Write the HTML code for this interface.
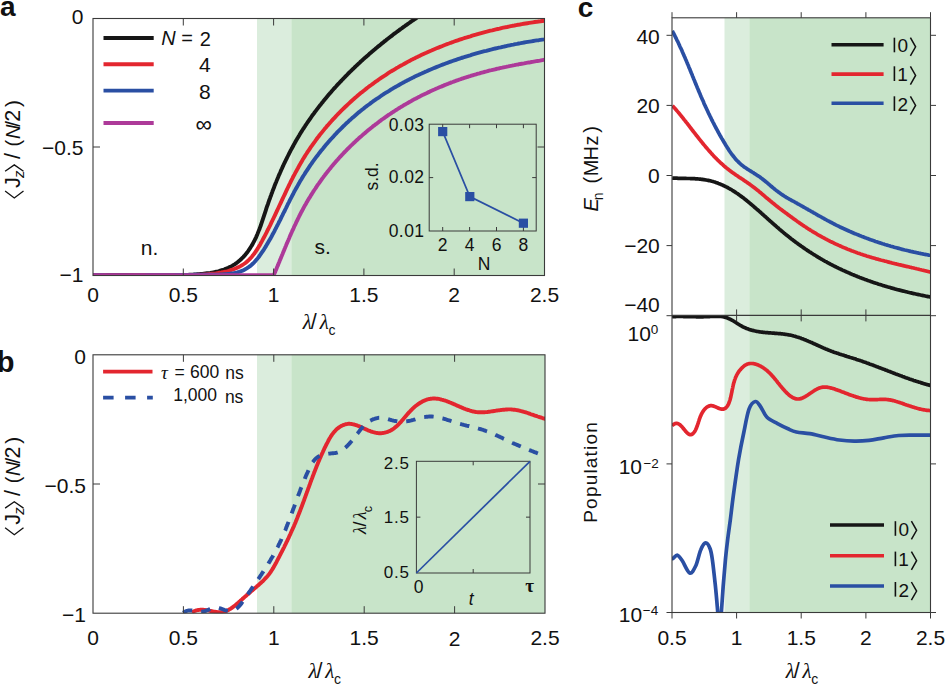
<!DOCTYPE html>
<html><head><meta charset="utf-8"><style>
html,body{margin:0;padding:0;background:#fff;}
svg{display:block;}
</style></head><body>
<svg width="946" height="691" viewBox="0 0 946 691">
<rect width="946" height="691" fill="#fff"/>
<clipPath id="clipa"><rect x="93" y="18.5" width="451.5" height="257"/></clipPath>
<clipPath id="clipb"><rect x="93" y="354.8" width="452" height="258.4"/></clipPath>
<clipPath id="clipcu"><rect x="672" y="17.8" width="258.5" height="297.6"/></clipPath>
<clipPath id="clipcl"><rect x="672" y="315.4" width="258.5" height="296.9"/></clipPath>
<rect x="257" y="18.5" width="34.3" height="257.0" fill="#dbeddd"/>
<rect x="291.3" y="18.5" width="253.2" height="257.0" fill="#c8e4c9"/>
<g clip-path="url(#clipa)" fill="none" stroke-width="3.9" stroke-linejoin="round" stroke-linecap="butt"><path d="M92.9 275.5 94.6 275.5 96.2 275.4 97.8 275.3 99.4 275.3 100.9 275.2 102.5 275.1 104.1 275.1 105.7 275.1 107.3 275.0 108.9 275.0 110.5 275.0 112.1 275.0 113.7 275.0 115.2 274.9 116.8 274.9 118.4 274.9 120.0 274.9 121.6 274.9 123.1 274.9 124.7 275.0 126.3 275.0 127.9 275.0 129.4 275.0 131.0 275.0 132.6 275.0 134.1 275.1 135.7 275.1 137.3 275.1 138.9 275.1 140.4 275.2 142.0 275.2 143.6 275.2 145.1 275.2 146.7 275.3 148.3 275.3 149.9 275.3 151.4 275.3 153.0 275.3 154.6 275.4 156.2 275.4 157.7 275.4 159.3 275.4 160.9 275.4 162.5 275.4 164.0 275.4 165.6 275.4 167.2 275.4 168.8 275.4 170.4 275.4 171.9 275.4 173.5 275.4 175.1 275.3 176.7 275.3 178.3 275.3 179.9 275.2 181.5 275.2 183.1 275.1 184.7 275.0 186.3 275.0 187.9 274.9 189.5 274.8 191.1 274.7 192.7 274.6 194.3 274.5 195.9 274.4 197.5 274.3 199.1 274.2 200.7 274.0 202.3 273.9 203.9 273.7 205.5 273.5 207.1 273.3 208.7 273.1 210.3 272.9 211.9 272.6 213.5 272.3 215.0 272.0 216.6 271.6 218.1 271.3 219.6 270.9 221.1 270.4 222.6 270.0 224.1 269.5 225.5 268.9 226.9 268.4 228.3 267.8 229.7 267.1 231.1 266.4 232.4 265.7 233.7 264.9 235.0 264.1 236.3 263.2 237.5 262.3 238.7 261.3 239.9 260.3 241.0 259.3 242.1 258.2 243.2 257.1 244.3 255.9 245.3 254.7 246.3 253.5 247.3 252.3 248.2 251.0 249.1 249.7 250.0 248.4 250.8 247.0 251.7 245.7 252.5 244.3 253.2 242.9 254.0 241.5 254.7 240.1 255.4 238.7 256.1 237.3 256.7 235.8 257.3 234.4 257.9 232.9 258.5 231.4 259.1 229.9 259.7 228.5 260.2 227.0 260.8 225.5 261.3 223.9 261.8 222.4 262.3 220.9 262.8 219.4 263.3 217.9 263.8 216.4 264.3 214.8 264.8 213.3 265.3 211.8 265.8 210.3 266.3 208.7 266.8 207.2 267.3 205.7 267.9 204.2 268.4 202.7 268.9 201.2 269.4 199.7 270.0 198.2 270.5 196.7 271.1 195.2 271.6 193.7 272.2 192.2 272.7 190.7 273.3 189.2 273.9 187.8 274.4 186.3 275.0 184.8 275.6 183.3 276.2 181.9 276.8 180.4 277.4 178.9 278.0 177.5 278.6 176.0 279.2 174.6 279.9 173.1 280.5 171.7 281.1 170.2 281.8 168.8 282.4 167.4 283.1 165.9 283.7 164.5 284.4 163.1 285.1 161.7 285.8 160.2 286.5 158.8 287.2 157.4 287.9 156.0 288.6 154.6 289.3 153.2 290.0 151.8 290.7 150.4 291.5 149.0 292.2 147.7 293.0 146.3 293.7 144.9 294.5 143.5 295.2 142.2 296.0 140.8 296.8 139.4 297.6 138.1 298.4 136.7 299.2 135.4 300.0 134.0 300.8 132.7 301.7 131.4 302.5 130.0 303.4 128.7 304.2 127.4 305.1 126.1 305.9 124.8 306.8 123.5 307.7 122.2 308.6 120.9 309.5 119.6 310.4 118.3 311.3 117.0 312.2 115.7 313.1 114.4 314.1 113.2 315.0 111.9 316.0 110.6 316.9 109.4 317.9 108.1 318.8 106.9 319.8 105.6 320.8 104.4 321.8 103.1 322.8 101.9 323.7 100.7 324.7 99.5 325.8 98.2 326.8 97.0 327.8 95.8 328.8 94.6 329.8 93.4 330.9 92.2 331.9 91.0 333.0 89.8 334.0 88.6 335.1 87.5 336.2 86.3 337.2 85.1 338.3 83.9 339.4 82.8 340.5 81.6 341.6 80.5 342.7 79.3 343.8 78.2 344.9 77.0 346.0 75.9 347.1 74.8 348.2 73.6 349.3 72.5 350.5 71.4 351.6 70.3 352.7 69.2 353.9 68.1 355.0 67.0 356.2 65.9 357.4 64.8 358.5 63.7 359.7 62.6 360.8 61.5 362.0 60.5 363.2 59.4 364.4 58.3 365.6 57.3 366.8 56.2 368.0 55.2 369.2 54.1 370.4 53.1 371.6 52.0 372.8 51.0 374.0 50.0 375.2 49.0 376.4 47.9 377.6 46.9 378.9 45.9 380.1 44.9 381.3 43.9 382.6 42.9 383.8 41.9 385.1 40.9 386.3 39.9 387.5 39.0 388.8 38.0 390.1 37.0 391.3 36.1 392.6 35.1 393.8 34.1 395.1 33.2 396.4 32.2 397.6 31.3 398.9 30.4 400.2 29.4 401.5 28.5 402.7 27.6 404.0 26.7 405.3 25.7 406.6 24.8 407.9 23.9 409.2 23.0 410.4 22.1 411.7 21.2 413.0 20.4 414.3 19.5 415.6 18.6 416.9 17.7 418.2 16.9 419.5 16.0 420.8 15.1 422.1 14.3 423.4 13.4 424.7 12.6 426.1 11.7 427.4 10.9 428.7 10.1 430.0 9.3" stroke="#161616"/><path d="M93.0 275.2 94.9 275.3 96.8 275.3 98.7 275.3 100.6 275.4 102.4 275.4 104.3 275.4 106.2 275.4 108.1 275.4 110.0 275.4 111.9 275.4 113.8 275.4 115.7 275.4 117.5 275.4 119.4 275.4 121.3 275.4 123.2 275.4 125.1 275.4 127.0 275.4 128.8 275.3 130.7 275.3 132.6 275.3 134.5 275.3 136.4 275.3 138.3 275.2 140.1 275.2 142.0 275.2 143.9 275.2 145.8 275.2 147.7 275.2 149.5 275.1 151.4 275.1 153.3 275.1 155.2 275.1 157.1 275.1 158.9 275.1 160.8 275.1 162.7 275.1 164.6 275.1 166.5 275.1 168.3 275.1 170.2 275.1 172.1 275.1 174.0 275.1 175.9 275.1 177.7 275.1 179.6 275.1 181.5 275.1 183.4 275.1 185.3 275.1 187.2 275.1 189.0 275.1 190.9 275.0 192.8 275.0 194.7 275.0 196.6 274.9 198.5 274.8 200.4 274.7 202.3 274.6 204.2 274.5 206.1 274.4 208.0 274.2 209.9 274.0 211.8 273.8 213.8 273.6 215.7 273.4 217.6 273.1 219.5 272.8 221.4 272.5 223.3 272.1 225.2 271.7 227.0 271.3 228.9 270.8 230.7 270.2 232.5 269.7 234.2 269.0 235.9 268.3 237.6 267.6 239.3 266.8 240.9 265.9 242.4 265.0 243.9 264.0 245.4 263.0 246.8 261.8 248.1 260.6 249.4 259.4 250.7 258.0 251.9 256.7 253.0 255.2 254.2 253.8 255.3 252.2 256.3 250.7 257.3 249.1 258.3 247.5 259.3 245.9 260.3 244.2 261.2 242.5 262.1 240.9 263.0 239.2 263.9 237.5 264.8 235.8 265.7 234.1 266.6 232.4 267.4 230.7 268.3 229.0 269.1 227.3 270.0 225.6 270.8 223.9 271.6 222.2 272.4 220.5 273.3 218.7 274.1 217.0 274.9 215.3 275.7 213.6 276.5 211.9 277.3 210.2 278.1 208.5 278.9 206.7 279.7 205.0 280.5 203.3 281.3 201.6 282.1 199.9 282.9 198.2 283.7 196.5 284.5 194.8 285.3 193.1 286.1 191.4 286.9 189.7 287.7 188.0 288.5 186.3 289.3 184.6 290.2 182.9 291.0 181.2 291.8 179.6 292.7 177.9 293.5 176.2 294.4 174.6 295.3 172.9 296.2 171.3 297.1 169.6 298.0 168.0 298.9 166.3 299.8 164.7 300.7 163.1 301.7 161.5 302.6 159.8 303.6 158.2 304.6 156.6 305.6 155.0 306.6 153.5 307.6 151.9 308.7 150.3 309.7 148.8 310.8 147.2 311.9 145.7 313.0 144.1 314.1 142.6 315.2 141.1 316.3 139.5 317.4 138.0 318.6 136.5 319.7 135.0 320.9 133.6 322.1 132.1 323.3 130.6 324.5 129.1 325.7 127.7 326.9 126.2 328.2 124.8 329.4 123.4 330.7 122.0 331.9 120.6 333.2 119.2 334.5 117.8 335.8 116.4 337.1 115.0 338.4 113.6 339.7 112.3 341.1 110.9 342.4 109.6 343.8 108.3 345.1 107.0 346.5 105.7 347.9 104.4 349.3 103.1 350.7 101.8 352.1 100.5 353.5 99.3 354.9 98.0 356.4 96.8 357.8 95.6 359.3 94.3 360.7 93.1 362.2 91.9 363.7 90.7 365.2 89.6 366.6 88.4 368.1 87.3 369.6 86.1 371.2 85.0 372.7 83.9 374.2 82.7 375.7 81.6 377.3 80.6 378.8 79.5 380.4 78.4 381.9 77.4 383.5 76.3 385.1 75.3 386.6 74.3 388.2 73.2 389.8 72.2 391.4 71.2 393.0 70.3 394.6 69.3 396.2 68.3 397.9 67.4 399.5 66.4 401.1 65.5 402.8 64.6 404.4 63.7 406.1 62.8 407.7 61.9 409.4 61.0 411.0 60.1 412.7 59.3 414.4 58.4 416.1 57.6 417.8 56.8 419.5 55.9 421.2 55.1 422.9 54.3 424.6 53.5 426.3 52.8 428.0 52.0 429.7 51.2 431.4 50.5 433.2 49.7 434.9 49.0 436.6 48.3 438.4 47.6 440.1 46.9 441.9 46.2 443.6 45.5 445.4 44.8 447.1 44.1 448.9 43.5 450.7 42.8 452.5 42.2 454.2 41.5 456.0 40.9 457.8 40.3 459.6 39.7 461.4 39.1 463.2 38.5 465.0 37.9 466.8 37.4 468.6 36.8 470.4 36.3 472.2 35.7 474.0 35.2 475.8 34.7 477.6 34.1 479.4 33.6 481.3 33.1 483.1 32.6 484.9 32.1 486.7 31.7 488.6 31.2 490.4 30.7 492.2 30.3 494.1 29.8 495.9 29.4 497.7 29.0 499.6 28.6 501.4 28.1 503.3 27.7 505.1 27.3 507.0 27.0 508.8 26.6 510.7 26.2 512.5 25.8 514.4 25.5 516.2 25.1 518.1 24.8 519.9 24.5 521.8 24.1 523.7 23.8 525.5 23.5 527.4 23.2 529.2 22.9 531.1 22.6 532.9 22.3 534.8 22.0 536.7 21.8 538.5 21.5 540.4 21.3 542.3 21.0 544.1 20.8 546.0 20.5" stroke="#e3262f"/><path d="M92.9 275.2 94.8 275.2 96.7 275.3 98.5 275.3 100.4 275.3 102.3 275.3 104.1 275.4 106.0 275.4 107.9 275.4 109.7 275.4 111.6 275.4 113.4 275.4 115.3 275.4 117.2 275.4 119.0 275.4 120.8 275.4 122.7 275.4 124.5 275.4 126.4 275.4 128.2 275.4 130.1 275.4 131.9 275.4 133.7 275.4 135.6 275.4 137.4 275.4 139.3 275.4 141.1 275.4 142.9 275.4 144.8 275.4 146.6 275.3 148.4 275.3 150.3 275.3 152.1 275.3 153.9 275.3 155.8 275.3 157.6 275.2 159.4 275.2 161.3 275.2 163.1 275.2 164.9 275.2 166.8 275.1 168.6 275.1 170.4 275.1 172.3 275.1 174.1 275.1 176.0 275.0 177.8 275.0 179.7 275.0 181.5 275.0 183.3 275.0 185.2 274.9 187.0 274.9 188.9 274.9 190.8 274.9 192.6 274.9 194.5 274.8 196.3 274.8 198.2 274.8 200.1 274.8 201.9 274.8 203.8 274.8 205.7 274.7 207.6 274.7 209.4 274.7 211.3 274.7 213.2 274.7 215.1 274.7 217.0 274.6 218.9 274.6 220.8 274.5 222.6 274.4 224.5 274.3 226.4 274.2 228.2 274.0 230.0 273.8 231.9 273.5 233.7 273.2 235.5 272.8 237.2 272.4 239.0 271.9 240.7 271.3 242.4 270.7 244.0 269.9 245.6 269.1 247.1 268.2 248.6 267.2 250.0 266.2 251.4 265.0 252.7 263.8 254.0 262.6 255.2 261.2 256.4 259.8 257.6 258.4 258.7 257.0 259.8 255.5 260.9 253.9 261.9 252.4 263.0 250.8 264.0 249.3 265.0 247.7 266.0 246.1 266.9 244.5 267.9 242.9 268.8 241.3 269.7 239.7 270.7 238.1 271.6 236.5 272.4 234.8 273.3 233.2 274.2 231.6 275.0 229.9 275.9 228.3 276.7 226.7 277.6 225.0 278.4 223.4 279.2 221.7 280.1 220.1 280.9 218.4 281.7 216.7 282.5 215.1 283.3 213.4 284.2 211.8 285.0 210.1 285.8 208.5 286.6 206.8 287.4 205.2 288.2 203.5 289.1 201.9 289.9 200.2 290.7 198.6 291.6 196.9 292.4 195.3 293.3 193.7 294.1 192.0 295.0 190.4 295.9 188.8 296.8 187.2 297.7 185.6 298.6 184.0 299.5 182.4 300.4 180.8 301.4 179.2 302.3 177.6 303.3 176.0 304.3 174.5 305.3 172.9 306.3 171.3 307.3 169.8 308.3 168.3 309.4 166.7 310.4 165.2 311.5 163.7 312.5 162.2 313.6 160.7 314.7 159.2 315.8 157.7 316.9 156.2 318.1 154.7 319.2 153.2 320.3 151.8 321.5 150.3 322.7 148.9 323.8 147.5 325.0 146.0 326.2 144.6 327.4 143.2 328.6 141.8 329.8 140.4 331.1 139.0 332.3 137.7 333.6 136.3 334.8 134.9 336.1 133.6 337.4 132.2 338.7 130.9 340.0 129.6 341.3 128.3 342.6 127.0 343.9 125.7 345.3 124.4 346.6 123.1 348.0 121.9 349.3 120.6 350.7 119.4 352.1 118.1 353.5 116.9 354.9 115.7 356.3 114.5 357.7 113.3 359.1 112.1 360.5 111.0 362.0 109.8 363.4 108.7 364.8 107.5 366.3 106.4 367.8 105.3 369.3 104.2 370.7 103.1 372.2 102.0 373.7 100.9 375.2 99.9 376.7 98.8 378.3 97.8 379.8 96.8 381.3 95.7 382.9 94.7 384.4 93.7 386.0 92.7 387.5 91.8 389.1 90.8 390.6 89.8 392.2 88.9 393.8 87.9 395.4 87.0 397.0 86.1 398.6 85.2 400.2 84.3 401.8 83.4 403.4 82.5 405.1 81.6 406.7 80.8 408.3 79.9 410.0 79.1 411.6 78.3 413.3 77.4 414.9 76.6 416.6 75.8 418.3 75.0 419.9 74.2 421.6 73.5 423.3 72.7 425.0 71.9 426.7 71.2 428.4 70.4 430.1 69.7 431.8 69.0 433.5 68.3 435.2 67.6 436.9 66.9 438.6 66.2 440.4 65.5 442.1 64.8 443.8 64.2 445.6 63.5 447.3 62.9 449.1 62.2 450.8 61.6 452.5 61.0 454.3 60.4 456.1 59.8 457.8 59.2 459.6 58.6 461.3 58.0 463.1 57.5 464.9 56.9 466.7 56.3 468.4 55.8 470.2 55.3 472.0 54.7 473.8 54.2 475.5 53.7 477.3 53.2 479.1 52.7 480.9 52.2 482.7 51.7 484.5 51.2 486.3 50.8 488.1 50.3 489.9 49.8 491.7 49.4 493.5 48.9 495.3 48.5 497.1 48.1 498.9 47.7 500.7 47.3 502.5 46.8 504.3 46.5 506.1 46.1 507.9 45.7 509.7 45.3 511.5 44.9 513.4 44.6 515.2 44.2 517.0 43.9 518.8 43.5 520.6 43.2 522.4 42.8 524.2 42.5 526.0 42.2 527.8 41.9 529.6 41.6 531.4 41.3 533.3 41.0 535.1 40.7 536.9 40.4 538.7 40.2 540.5 39.9 542.3 39.6 544.1 39.4 545.9 39.1" stroke="#2a4fa3"/><path d="M93 275.3H274.5" stroke="#ad3a99"/><path d="M273.7 275.2 274.2 274.1 274.7 273.0 275.2 271.9 275.6 270.7 276.1 269.6 276.6 268.5 277.0 267.3 277.5 266.2 278.0 265.1 278.4 264.0 278.9 262.8 279.4 261.7 279.8 260.5 280.3 259.4 280.8 258.3 281.2 257.1 281.7 256.0 282.2 254.8 282.7 253.7 283.1 252.5 283.6 251.4 284.1 250.3 284.5 249.1 285.0 248.0 285.5 246.8 286.0 245.7 286.4 244.5 286.9 243.4 287.4 242.2 287.9 241.1 288.4 240.0 288.9 238.8 289.4 237.7 289.8 236.5 290.3 235.4 290.8 234.2 291.3 233.1 291.8 232.0 292.3 230.8 292.9 229.7 293.4 228.6 293.9 227.4 294.4 226.3 294.9 225.2 295.5 224.1 296.0 222.9 296.5 221.8 297.1 220.7 297.6 219.6 298.1 218.5 298.7 217.3 299.2 216.2 299.8 215.1 300.4 214.0 300.9 212.9 301.5 211.8 302.1 210.7 302.7 209.6 303.3 208.5 303.8 207.5 304.4 206.4 305.0 205.3 305.7 204.2 306.3 203.1 306.9 202.1 307.5 201.0 308.1 199.9 308.8 198.9 309.4 197.8 310.1 196.8 310.7 195.7 311.4 194.7 312.0 193.6 312.7 192.6 313.3 191.6 314.0 190.5 314.7 189.5 315.4 188.5 316.1 187.4 316.7 186.4 317.4 185.4 318.1 184.4 318.9 183.4 319.6 182.4 320.3 181.4 321.0 180.4 321.7 179.4 322.4 178.4 323.2 177.4 323.9 176.4 324.7 175.4 325.4 174.4 326.2 173.5 326.9 172.5 327.7 171.5 328.4 170.6 329.2 169.6 330.0 168.6 330.8 167.7 331.5 166.7 332.3 165.8 333.1 164.9 333.9 163.9 334.7 163.0 335.5 162.0 336.3 161.1 337.1 160.2 338.0 159.3 338.8 158.4 339.6 157.4 340.4 156.5 341.3 155.6 342.1 154.7 343.0 153.8 343.8 152.9 344.7 152.0 345.5 151.2 346.4 150.3 347.2 149.4 348.1 148.5 349.0 147.7 349.8 146.8 350.7 145.9 351.6 145.1 352.5 144.2 353.4 143.4 354.3 142.5 355.2 141.7 356.1 140.8 357.0 140.0 357.9 139.2 358.8 138.3 359.7 137.5 360.6 136.7 361.6 135.9 362.5 135.1 363.4 134.3 364.4 133.5 365.3 132.7 366.2 131.9 367.2 131.1 368.1 130.3 369.1 129.5 370.1 128.7 371.0 128.0 372.0 127.2 372.9 126.4 373.9 125.7 374.9 124.9 375.9 124.2 376.9 123.4 377.8 122.7 378.8 121.9 379.8 121.2 380.8 120.4 381.8 119.7 382.8 119.0 383.8 118.3 384.8 117.6 385.8 116.9 386.9 116.1 387.9 115.4 388.9 114.7 389.9 114.1 391.0 113.4 392.0 112.7 393.0 112.0 394.1 111.3 395.1 110.7 396.1 110.0 397.2 109.3 398.2 108.7 399.3 108.0 400.3 107.4 401.4 106.7 402.5 106.1 403.5 105.4 404.6 104.8 405.7 104.2 406.7 103.6 407.8 103.0 408.9 102.3 410.0 101.7 411.1 101.1 412.1 100.5 413.2 99.9 414.3 99.3 415.4 98.8 416.5 98.2 417.6 97.6 418.7 97.0 419.8 96.5 420.9 95.9 422.0 95.3 423.1 94.8 424.3 94.2 425.4 93.7 426.5 93.2 427.6 92.6 428.7 92.1 429.8 91.6 431.0 91.0 432.1 90.5 433.2 90.0 434.4 89.5 435.5 89.0 436.6 88.5 437.8 88.0 438.9 87.5 440.0 87.0 441.2 86.6 442.3 86.1 443.5 85.6 444.6 85.1 445.8 84.7 446.9 84.2 448.1 83.8 449.2 83.3 450.4 82.9 451.5 82.4 452.7 82.0 453.8 81.6 455.0 81.2 456.1 80.7 457.3 80.3 458.5 79.9 459.6 79.5 460.8 79.1 461.9 78.7 463.1 78.3 464.3 77.9 465.5 77.5 466.6 77.2 467.8 76.8 469.0 76.4 470.1 76.1 471.3 75.7 472.5 75.3 473.7 75.0 474.9 74.6 476.0 74.3 477.2 73.9 478.4 73.6 479.6 73.3 480.8 72.9 481.9 72.6 483.1 72.3 484.3 72.0 485.5 71.7 486.7 71.4 487.9 71.0 489.1 70.7 490.3 70.4 491.5 70.2 492.7 69.9 493.9 69.6 495.1 69.3 496.3 69.0 497.5 68.7 498.7 68.5 499.9 68.2 501.1 67.9 502.3 67.7 503.5 67.4 504.7 67.1 505.9 66.9 507.1 66.6 508.3 66.4 509.5 66.1 510.7 65.9 511.9 65.7 513.2 65.4 514.4 65.2 515.6 64.9 516.8 64.7 518.0 64.5 519.2 64.2 520.4 64.0 521.7 63.8 522.9 63.6 524.1 63.4 525.3 63.1 526.5 62.9 527.7 62.7 529.0 62.5 530.2 62.3 531.4 62.0 532.6 61.8 533.8 61.6 535.1 61.4 536.3 61.2 537.5 61.0 538.7 60.8 539.9 60.6 541.2 60.3 542.4 60.1 543.6 59.9 544.8 59.7 546.0 59.5" stroke="#ad3a99"/></g>
<rect x="93.0" y="18.5" width="451.5" height="257.0" fill="none" stroke="#3a3a3a" stroke-width="1.1"/>
<path d="M183.3 275.5V268.5M183.3 18.5V25.5M273.6 275.5V268.5M273.6 18.5V25.5M363.9 275.5V268.5M363.9 18.5V25.5M454.2 275.5V268.5M454.2 18.5V25.5M93.0 147.0H100.0M544.5 147.0H537.5" stroke="#3a3a3a" stroke-width="1.0" fill="none"/>
<text x="87.16" y="301.83" font-size="21" font-family="Liberation Sans, sans-serif" fill="#111">0</text>
<text x="168.70" y="301.83" font-size="21" font-family="Liberation Sans, sans-serif" fill="#111">0.5</text>
<text x="267.76" y="301.82" font-size="21" font-family="Liberation Sans, sans-serif" fill="#111">1</text>
<text x="349.30" y="301.72" font-size="21" font-family="Liberation Sans, sans-serif" fill="#111">1.5</text>
<text x="448.36" y="301.93" font-size="21" font-family="Liberation Sans, sans-serif" fill="#111">2</text>
<text x="529.90" y="301.83" font-size="21" font-family="Liberation Sans, sans-serif" fill="#111">2.5</text>
<text x="71.72" y="23.63" font-size="21" font-family="Liberation Sans, sans-serif" fill="#111">0</text>
<text x="41.94" y="154.73" font-size="21" font-family="Liberation Sans, sans-serif" fill="#111">−0.5</text>
<text x="59.46" y="282.42" font-size="21" font-family="Liberation Sans, sans-serif" fill="#111">−1</text>
<text x="140.80" y="254.50" font-size="21" font-family="Liberation Sans, sans-serif" fill="#111">n.</text>
<text x="314.50" y="254.38" font-size="21" font-family="Liberation Sans, sans-serif" fill="#111">s.</text>
<text x="302.81" y="328.50" font-size="21" font-family="Liberation Serif, serif" font-style="italic" fill="#111">λ</text><text x="310.80" y="328.60" font-size="21.5" font-family="Liberation Sans, sans-serif" fill="#111">/</text><text x="319.71" y="328.50" font-size="21" font-family="Liberation Serif, serif" font-style="italic" fill="#111">λ</text><text x="328.41" y="334.60" font-size="14" font-family="Liberation Sans, sans-serif" fill="#111">c</text>
<g transform="translate(20.3,198.7) rotate(-90)"><path d="M7.80 -15.20L0.80 -6.00L7.80 3.20" fill="none" stroke="#111" stroke-width="1.3"/><text x="10.66" y="0.00" font-size="22" font-family="Liberation Sans, sans-serif" fill="#111">J</text><text x="20.69" y="3.60" font-size="15" font-family="Liberation Sans, sans-serif" font-style="italic" fill="#111">z</text><path d="M27.40 -15.20L33.80 -6.00L27.40 3.20" fill="none" stroke="#111" stroke-width="1.3"/><text x="39.60" y="0.00" font-size="21.5" font-family="Liberation Sans, sans-serif" fill="#111">/</text><text x="52.26" y="0.00" font-size="20" font-family="Liberation Sans, sans-serif" fill="#111">(</text><text x="59.58" y="0.00" font-size="20" font-family="Liberation Sans, sans-serif" font-style="italic" fill="#111">N</text><text x="72.00" y="0.00" font-size="20.5" font-family="Liberation Sans, sans-serif" fill="#111">/</text><text x="76.92" y="0.00" font-size="21.5" font-family="Liberation Sans, sans-serif" fill="#111">2</text><text x="91.68" y="0.00" font-size="21" font-family="Liberation Sans, sans-serif" fill="#111">)</text></g>
<path d="M103.5 38H153.7" stroke="#161616" stroke-width="3.9"/>
<path d="M103.5 64.2H153.7" stroke="#e3262f" stroke-width="3.9"/>
<path d="M103.5 90.6H153.7" stroke="#2a4fa3" stroke-width="3.9"/>
<path d="M103.5 123H153.7" stroke="#ad3a99" stroke-width="3.9"/>
<text x="161.17" y="44.88" font-size="20" font-family="Liberation Sans, sans-serif" font-style="italic" fill="#111">N</text>
<text x="181.37" y="45.18" font-size="20" font-family="Liberation Sans, sans-serif" fill="#111">=</text>
<text x="199.64" y="45.68" font-size="20" font-family="Liberation Sans, sans-serif" fill="#111">2</text>
<text x="199.03" y="71.82" font-size="21" font-family="Liberation Sans, sans-serif" fill="#111">4</text>
<text x="198.96" y="98.93" font-size="21" font-family="Liberation Sans, sans-serif" fill="#111">8</text>
<text x="195.60" y="132.26" font-size="23" font-family="Liberation Sans, sans-serif" fill="#111">∞</text>
<text x="0.06" y="16.35" font-size="28" font-family="Liberation Sans, sans-serif" font-weight="bold" fill="#111">a</text>
<rect x="429.2" y="124.2" width="107.0" height="106.8" fill="none" stroke="#3a3a3a" stroke-width="1"/>
<path d="M442.7 231.0V227.0M442.7 124.2V128.2M469.6 231.0V227.0M469.6 124.2V128.2M496.5 231.0V227.0M496.5 124.2V128.2M523.4 231.0V227.0M523.4 124.2V128.2M429.2 177.6H433.2M536.2 177.6H532.2" stroke="#3a3a3a" stroke-width="1" fill="none"/>
<polyline points="442.7,131.6 469.8,196.6 523.4,223.2" fill="none" stroke="#2a4fa3" stroke-width="1.7"/>
<rect x="438.1" y="127.0" width="9.2" height="9.2" fill="#2a4fa3"/>
<rect x="465.2" y="192.0" width="9.2" height="9.2" fill="#2a4fa3"/>
<rect x="518.8" y="218.6" width="9.2" height="9.2" fill="#2a4fa3"/>
<text x="388.74" y="130.52" font-size="17.5" font-family="Liberation Sans, sans-serif" fill="#111" letter-spacing="0.4">0.03</text>
<text x="388.74" y="183.42" font-size="17.5" font-family="Liberation Sans, sans-serif" fill="#111" letter-spacing="0.4">0.02</text>
<text x="388.74" y="236.82" font-size="17.5" font-family="Liberation Sans, sans-serif" fill="#111" letter-spacing="0.4">0.01</text>
<text x="437.83" y="250.61" font-size="17.5" font-family="Liberation Sans, sans-serif" fill="#111">2</text>
<text x="464.73" y="250.52" font-size="17.5" font-family="Liberation Sans, sans-serif" fill="#111">4</text>
<text x="491.63" y="250.52" font-size="17.5" font-family="Liberation Sans, sans-serif" fill="#111">6</text>
<text x="518.53" y="250.52" font-size="17.5" font-family="Liberation Sans, sans-serif" fill="#111">8</text>
<text x="477.68" y="269.82" font-size="17.5" font-family="Liberation Sans, sans-serif" fill="#111">N</text>
<text transform="translate(372.20,177.00) rotate(-90)" x="-13.55" y="6.25" font-size="17.5" font-family="Liberation Sans, sans-serif" fill="#111">s.d.</text>
<rect x="257" y="354.8" width="34.3" height="258.4" fill="#dbeddd"/>
<rect x="291.3" y="354.8" width="253.7" height="258.4" fill="#c8e4c9"/>
<g clip-path="url(#clipb)" fill="none" stroke-width="3.9" stroke-linejoin="round"><path d="M192.0 612.5 192.9 611.9 193.8 611.4 194.7 611.0 195.6 610.7 196.5 610.4 197.5 610.2 198.4 610.0 199.3 609.9 200.3 609.8 201.2 609.7 202.1 609.8 203.1 609.8 204.0 609.9 205.0 610.0 206.0 610.1 206.9 610.2 207.9 610.4 208.9 610.6 209.9 610.8 210.9 611.0 211.8 611.2 212.8 611.4 213.8 611.6 214.8 611.7 215.8 611.9 216.7 612.0 217.7 612.1 218.6 612.2 219.6 612.2 220.5 612.2 221.4 612.1 222.3 612.0 223.2 611.8 224.1 611.6 225.0 611.4 225.8 611.1 226.7 610.7 227.5 610.4 228.3 610.0 229.2 609.5 230.0 609.1 230.8 608.6 231.6 608.0 232.4 607.5 233.2 606.9 233.9 606.3 234.7 605.7 235.5 605.1 236.2 604.5 237.0 603.8 237.7 603.2 238.5 602.5 239.2 601.8 240.0 601.2 240.7 600.5 241.4 599.9 242.2 599.2 242.9 598.5 243.6 597.9 244.3 597.3 245.1 596.6 245.8 596.0 246.5 595.4 247.2 594.7 247.9 594.1 248.7 593.5 249.4 592.9 250.1 592.3 250.8 591.6 251.5 591.0 252.3 590.4 253.0 589.8 253.7 589.2 254.4 588.5 255.2 587.9 255.9 587.3 256.6 586.7 257.3 586.0 258.1 585.4 258.8 584.8 259.5 584.1 260.2 583.5 261.0 582.8 261.7 582.1 262.4 581.5 263.1 580.8 263.8 580.1 264.4 579.4 265.1 578.7 265.8 578.0 266.4 577.3 267.1 576.6 267.7 575.9 268.3 575.1 268.9 574.4 269.5 573.6 270.0 572.9 270.6 572.1 271.1 571.3 271.6 570.5 272.1 569.7 272.6 568.9 273.1 568.1 273.6 567.2 274.1 566.4 274.5 565.6 275.0 564.7 275.5 563.9 275.9 563.1 276.4 562.2 276.8 561.4 277.2 560.5 277.7 559.7 278.1 558.8 278.6 558.0 279.0 557.1 279.5 556.2 279.9 555.4 280.4 554.5 280.8 553.7 281.2 552.8 281.7 552.0 282.1 551.1 282.5 550.2 283.0 549.4 283.4 548.5 283.9 547.6 284.3 546.8 284.7 545.9 285.1 545.0 285.6 544.2 286.0 543.3 286.4 542.4 286.8 541.6 287.3 540.7 287.7 539.8 288.1 538.9 288.5 538.1 288.9 537.2 289.3 536.3 289.7 535.4 290.1 534.6 290.5 533.7 290.9 532.8 291.3 531.9 291.7 531.0 292.1 530.2 292.5 529.3 292.9 528.4 293.3 527.5 293.7 526.6 294.1 525.7 294.4 524.8 294.8 524.0 295.2 523.1 295.6 522.2 295.9 521.3 296.3 520.4 296.7 519.5 297.0 518.6 297.4 517.7 297.7 516.8 298.1 515.9 298.4 515.0 298.8 514.1 299.1 513.3 299.5 512.4 299.8 511.5 300.2 510.6 300.5 509.7 300.8 508.8 301.2 507.9 301.5 507.0 301.9 506.1 302.2 505.2 302.5 504.3 302.9 503.4 303.2 502.5 303.5 501.6 303.9 500.7 304.2 499.8 304.5 498.9 304.8 498.0 305.2 497.1 305.5 496.2 305.8 495.3 306.2 494.4 306.5 493.5 306.8 492.6 307.1 491.7 307.5 490.8 307.8 489.9 308.1 489.0 308.4 488.1 308.8 487.2 309.1 486.3 309.4 485.4 309.8 484.5 310.1 483.6 310.4 482.7 310.7 481.8 311.1 480.9 311.4 480.0 311.7 479.1 312.1 478.2 312.4 477.3 312.8 476.4 313.1 475.5 313.4 474.6 313.8 473.7 314.1 472.8 314.5 471.9 314.8 471.0 315.2 470.1 315.5 469.2 315.9 468.3 316.2 467.4 316.6 466.5 316.9 465.6 317.3 464.7 317.7 463.8 318.0 462.9 318.4 462.0 318.8 461.1 319.2 460.2 319.5 459.4 319.9 458.5 320.3 457.6 320.7 456.7 321.1 455.8 321.5 454.9 321.9 454.0 322.3 453.1 322.7 452.3 323.1 451.4 323.5 450.5 323.9 449.6 324.3 448.7 324.7 447.9 325.2 447.0 325.6 446.1 326.0 445.2 326.5 444.3 326.9 443.5 327.4 442.6 327.8 441.7 328.3 440.9 328.7 440.0 329.2 439.1 329.7 438.3 330.2 437.5 330.7 436.6 331.2 435.8 331.8 435.0 332.3 434.2 332.9 433.5 333.5 432.7 334.1 432.0 334.7 431.3 335.4 430.6 336.0 429.9 336.7 429.2 337.4 428.6 338.2 428.0 339.0 427.5 339.8 426.9 340.6 426.4 341.4 425.9 342.3 425.5 343.1 425.1 344.0 424.8 344.9 424.5 345.8 424.2 346.7 424.1 347.7 423.9 348.6 423.8 349.5 423.8 350.4 423.9 351.4 424.0 352.3 424.1 353.2 424.3 354.2 424.5 355.1 424.8 356.0 425.1 356.9 425.4 357.9 425.8 358.8 426.1 359.7 426.5 360.6 426.9 361.5 427.3 362.4 427.7 363.3 428.1 364.2 428.6 365.1 429.0 366.0 429.4 366.9 429.8 367.8 430.2 368.7 430.6 369.7 430.9 370.6 431.3 371.5 431.6 372.4 431.9 373.4 432.2 374.3 432.4 375.2 432.7 376.2 432.9 377.1 433.0 378.1 433.1 379.0 433.2 380.0 433.2 381.0 433.2 381.9 433.1 382.9 433.0 383.8 432.9 384.8 432.7 385.7 432.4 386.6 432.2 387.5 431.9 388.4 431.5 389.3 431.2 390.1 430.8 390.9 430.3 391.8 429.9 392.5 429.4 393.3 428.9 394.1 428.3 394.8 427.7 395.5 427.2 396.2 426.5 396.9 425.9 397.6 425.3 398.3 424.6 399.0 423.9 399.6 423.2 400.3 422.5 401.0 421.8 401.6 421.0 402.2 420.3 402.9 419.6 403.5 418.8 404.2 418.0 404.8 417.3 405.5 416.5 406.1 415.8 406.7 415.0 407.4 414.2 408.1 413.5 408.7 412.7 409.4 412.0 410.1 411.3 410.8 410.5 411.5 409.8 412.2 409.1 412.9 408.4 413.7 407.7 414.4 407.1 415.2 406.4 415.9 405.8 416.7 405.2 417.5 404.6 418.3 404.0 419.1 403.5 419.9 403.0 420.7 402.5 421.6 402.0 422.4 401.5 423.2 401.1 424.1 400.7 425.0 400.4 425.8 400.0 426.7 399.7 427.6 399.4 428.5 399.2 429.4 399.0 430.3 398.8 431.2 398.7 432.1 398.6 433.0 398.5 434.0 398.5 434.9 398.5 435.8 398.6 436.8 398.7 437.7 398.8 438.7 398.9 439.6 399.1 440.6 399.3 441.5 399.6 442.5 399.8 443.4 400.1 444.4 400.4 445.3 400.7 446.3 401.0 447.2 401.4 448.1 401.7 449.1 402.1 450.0 402.5 450.9 402.8 451.8 403.2 452.7 403.6 453.6 404.0 454.5 404.4 455.4 404.8 456.3 405.2 457.2 405.6 458.1 406.0 459.0 406.4 459.9 406.8 460.8 407.1 461.7 407.5 462.5 407.9 463.4 408.3 464.3 408.6 465.2 409.0 466.1 409.3 467.0 409.6 467.9 410.0 468.8 410.2 469.7 410.5 470.6 410.8 471.5 411.0 472.4 411.3 473.3 411.5 474.2 411.7 475.1 411.8 476.0 412.0 477.0 412.1 477.9 412.2 478.8 412.3 479.8 412.3 480.7 412.3 481.6 412.3 482.6 412.3 483.6 412.3 484.5 412.2 485.5 412.1 486.4 412.1 487.4 412.0 488.4 411.8 489.3 411.7 490.3 411.6 491.3 411.4 492.3 411.3 493.3 411.2 494.2 411.0 495.2 410.9 496.2 410.7 497.2 410.5 498.2 410.4 499.2 410.3 500.1 410.1 501.1 410.0 502.1 409.9 503.1 409.8 504.1 409.7 505.0 409.6 506.0 409.5 507.0 409.5 507.9 409.4 508.9 409.4 509.9 409.4 510.8 409.4 511.8 409.5 512.7 409.6 513.7 409.7 514.6 409.8 515.6 409.9 516.5 410.1 517.5 410.2 518.4 410.4 519.3 410.6 520.3 410.9 521.2 411.1 522.1 411.3 523.1 411.6 524.0 411.9 524.9 412.1 525.8 412.4 526.7 412.7 527.7 413.0 528.6 413.3 529.5 413.6 530.4 414.0 531.3 414.3 532.3 414.6 533.2 414.9 534.1 415.3 535.0 415.6 535.9 415.9 536.8 416.2 537.7 416.5 538.7 416.8 539.6 417.1 540.5 417.4 541.4 417.7 542.3 418.0 543.2 418.3 544.2 418.5 545.1 418.8 546.0 419.0" stroke="#e3262f"/><path d="M183.3 612.8 184.2 612.1 185.1 611.6 186.0 611.2 187.0 610.9 187.9 610.7 188.9 610.5 189.8 610.5 190.7 610.5 191.7 610.5 192.6 610.6 193.6 610.7 194.5 610.8 195.5 611.0 196.4 611.1 197.4 611.3 198.3 611.4 199.3 611.5 200.2 611.6 201.1 611.6 202.1 611.6 203.0 611.5 203.9 611.4 204.8 611.2 205.7 610.9 206.6 610.5 207.5 610.2 208.4 609.8 209.3 609.4 210.2 609.0 211.1 608.6 212.0 608.3 212.9 608.0 213.8 607.7 214.7 607.5 215.6 607.5 216.5 607.5 217.4 607.6 218.4 607.7 219.3 608.0 220.2 608.3 221.1 608.6 222.1 609.0 223.0 609.4 223.9 609.7 224.8 610.1 225.8 610.4 226.7 610.7 227.6 610.9 228.5 611.1 229.4 611.2 230.3 611.1 231.2 611.0 232.1 610.8 233.0 610.5 233.8 610.2 234.6 609.8 235.4 609.3 236.2 608.8 236.9 608.3 237.6 607.7 238.3 607.1 238.9 606.4 239.5 605.7 240.2 605.0 240.8 604.3 241.4 603.5 241.9 602.7 242.5 601.9 243.1 601.1 243.6 600.3 244.2 599.5 244.7 598.7 245.3 597.9 245.8 597.1 246.4 596.3 246.9 595.5 247.5 594.7 248.1 593.8 248.6 593.0 249.2 592.2 249.7 591.4 250.3 590.6 250.8 589.8 251.4 589.0 251.9 588.2 252.5 587.4 253.1 586.6 253.6 585.8 254.2 585.0 254.7 584.2 255.3 583.4 255.8 582.6 256.4 581.8 256.9 581.0 257.5 580.2 258.0 579.4 258.6 578.6 259.1 577.8 259.7 577.0 260.2 576.2 260.7 575.4 261.3 574.6 261.8 573.8 262.3 573.0 262.9 572.2 263.4 571.3 263.9 570.5 264.5 569.7 265.0 568.9 265.5 568.1 266.0 567.3 266.5 566.5 267.0 565.7 267.6 564.9 268.1 564.1 268.6 563.2 269.1 562.4 269.6 561.6 270.1 560.8 270.6 560.0 271.0 559.1 271.5 558.3 272.0 557.5 272.5 556.7 273.0 555.8 273.4 555.0 273.9 554.2 274.3 553.3 274.8 552.5 275.3 551.7 275.7 550.8 276.2 550.0 276.6 549.1 277.0 548.3 277.5 547.4 277.9 546.6 278.3 545.7 278.7 544.9 279.1 544.0 279.6 543.2 280.0 542.3 280.4 541.4 280.8 540.6 281.2 539.7 281.5 538.8 281.9 538.0 282.3 537.1 282.7 536.2 283.1 535.3 283.5 534.5 283.8 533.6 284.2 532.7 284.6 531.8 284.9 530.9 285.3 530.1 285.7 529.2 286.0 528.3 286.4 527.4 286.7 526.5 287.1 525.6 287.4 524.7 287.8 523.8 288.1 522.9 288.5 522.0 288.8 521.2 289.1 520.3 289.5 519.4 289.8 518.5 290.2 517.6 290.5 516.7 290.8 515.8 291.2 514.9 291.5 513.9 291.8 513.0 292.2 512.1 292.5 511.2 292.8 510.3 293.2 509.4 293.5 508.5 293.8 507.6 294.2 506.7 294.5 505.8 294.8 504.9 295.1 504.0 295.5 503.1 295.8 502.2 296.1 501.2 296.5 500.3 296.8 499.4 297.1 498.5 297.5 497.6 297.8 496.7 298.1 495.8 298.5 494.9 298.8 494.0 299.2 493.1 299.5 492.2 299.9 491.2 300.2 490.3 300.5 489.4 300.9 488.5 301.2 487.6 301.6 486.7 302.0 485.8 302.3 484.9 302.7 484.0 303.0 483.1 303.4 482.2 303.8 481.3 304.1 480.4 304.5 479.5 304.9 478.5 305.3 477.6 305.6 476.7 306.0 475.8 306.4 474.9 306.8 474.0 307.2 473.1 307.6 472.3 308.0 471.4 308.4 470.5 308.8 469.6 309.2 468.7 309.6 467.8 310.1 466.9 310.5 466.0 311.0 465.2 311.4 464.3 311.9 463.5 312.4 462.7 313.0 461.9 313.5 461.2 314.1 460.4 314.7 459.7 315.3 459.1 316.0 458.4 316.6 457.8 317.4 457.3 318.1 456.7 318.9 456.3 319.8 455.8 320.7 455.4 321.6 455.1 322.5 454.8 323.4 454.5 324.4 454.3 325.4 454.1 326.4 453.9 327.4 453.8 328.4 453.6 329.4 453.6 330.3 453.5 331.3 453.4 332.3 453.3 333.3 453.2 334.2 453.1 335.2 453.0 336.1 452.8 337.0 452.6 337.9 452.3 338.7 452.0 339.6 451.6 340.4 451.2 341.3 450.7 342.1 450.2 342.9 449.6 343.6 449.0 344.4 448.4 345.2 447.8 345.9 447.2 346.6 446.5 347.3 445.8 348.0 445.1 348.7 444.4 349.3 443.7 350.0 443.0 350.6 442.3 351.3 441.5 351.9 440.8 352.5 440.1 353.1 439.3 353.7 438.6 354.3 437.8 354.9 437.0 355.5 436.3 356.1 435.5 356.7 434.7 357.2 433.9 357.8 433.2 358.4 432.4 359.0 431.6 359.6 430.8 360.2 430.1 360.7 429.3 361.4 428.6 362.0 427.8 362.6 427.1 363.3 426.4 363.9 425.7 364.6 425.0 365.3 424.4 366.0 423.7 366.8 423.1 367.6 422.5 368.4 421.9 369.2 421.4 370.0 420.8 370.9 420.4 371.8 419.9 372.6 419.5 373.5 419.1 374.5 418.8 375.4 418.5 376.3 418.3 377.2 418.1 378.2 417.9 379.1 417.8 380.1 417.8 381.0 417.8 382.0 417.9 382.9 418.0 383.9 418.2 384.8 418.3 385.7 418.5 386.7 418.8 387.6 419.0 388.6 419.3 389.5 419.5 390.5 419.8 391.4 420.1 392.4 420.3 393.3 420.6 394.3 420.8 395.2 421.0 396.2 421.2 397.2 421.4 398.1 421.6 399.1 421.7 400.0 421.8 400.9 421.8 401.9 421.8 402.8 421.8 403.8 421.7 404.7 421.7 405.7 421.5 406.6 421.4 407.6 421.2 408.5 421.0 409.5 420.8 410.4 420.6 411.4 420.4 412.3 420.1 413.2 419.9 414.2 419.6 415.1 419.4 416.0 419.1 417.0 418.8 417.9 418.6 418.9 418.3 419.8 418.1 420.7 417.9 421.7 417.6 422.6 417.4 423.5 417.2 424.5 417.1 425.4 416.9 426.4 416.8 427.3 416.7 428.2 416.6 429.2 416.5 430.1 416.5 431.1 416.5 432.0 416.5 433.0 416.6 434.0 416.7 434.9 416.8 435.9 416.9 436.8 417.1 437.8 417.3 438.8 417.5 439.7 417.7 440.7 417.9 441.6 418.2 442.6 418.4 443.5 418.7 444.4 419.0 445.4 419.2 446.3 419.5 447.2 419.8 448.1 420.1 449.1 420.4 450.0 420.7 450.9 421.0 451.8 421.3 452.7 421.6 453.6 421.9 454.5 422.2 455.4 422.5 456.3 422.8 457.3 423.1 458.2 423.3 459.1 423.6 460.0 423.9 460.9 424.1 461.9 424.4 462.8 424.6 463.7 424.9 464.6 425.1 465.6 425.3 466.5 425.6 467.4 425.8 468.4 426.0 469.3 426.2 470.3 426.5 471.2 426.7 472.1 426.9 473.1 427.1 474.0 427.4 475.0 427.6 475.9 427.8 476.8 428.1 477.7 428.3 478.7 428.6 479.6 428.8 480.5 429.1 481.4 429.4 482.4 429.7 483.3 430.0 484.2 430.3 485.1 430.6 486.0 431.0 486.9 431.3 487.8 431.6 488.7 432.0 489.6 432.3 490.5 432.7 491.3 433.1 492.2 433.4 493.1 433.8 494.0 434.2 494.9 434.6 495.7 435.0 496.6 435.4 497.5 435.8 498.4 436.2 499.3 436.6 500.1 437.0 501.0 437.4 501.9 437.8 502.7 438.2 503.6 438.7 504.5 439.1 505.4 439.5 506.2 439.9 507.1 440.3 508.0 440.7 508.8 441.1 509.7 441.6 510.6 442.0 511.5 442.4 512.3 442.8 513.2 443.2 514.1 443.6 515.0 444.0 515.8 444.3 516.7 444.7 517.6 445.1 518.5 445.5 519.4 445.9 520.3 446.2 521.2 446.6 522.0 447.0 522.9 447.4 523.8 447.7 524.7 448.1 525.6 448.5 526.5 448.8 527.4 449.2 528.3 449.5 529.2 449.9 530.0 450.3 530.9 450.6 531.8 451.0 532.7 451.3 533.6 451.7 534.5 452.1 535.4 452.4 536.3 452.8 537.2 453.2 538.0 453.5 538.9 453.9 539.8 454.3 540.7 454.7 541.6 455.1 542.5 455.4 543.4 455.8 544.2 456.2 545.1 456.6 546.0 457.0" stroke="#2a4fa3" stroke-dasharray="9.5 9"/></g>
<rect x="93.0" y="354.8" width="452.0" height="258.40000000000003" fill="none" stroke="#3a3a3a" stroke-width="1.1"/>
<path d="M183.4 613.2V606.2M183.4 354.8V361.8M273.8 613.2V606.2M273.8 354.8V361.8M364.2 613.2V606.2M364.2 354.8V361.8M454.6 613.2V606.2M454.6 354.8V361.8M93.0 484.0H100.0M545.0 484.0H538.0" stroke="#3a3a3a" stroke-width="1.0" fill="none"/>
<text x="87.16" y="645.43" font-size="21" font-family="Liberation Sans, sans-serif" fill="#111">0</text>
<text x="168.80" y="645.43" font-size="21" font-family="Liberation Sans, sans-serif" fill="#111">0.5</text>
<text x="267.96" y="645.42" font-size="21" font-family="Liberation Sans, sans-serif" fill="#111">1</text>
<text x="349.60" y="645.32" font-size="21" font-family="Liberation Sans, sans-serif" fill="#111">1.5</text>
<text x="448.76" y="645.53" font-size="21" font-family="Liberation Sans, sans-serif" fill="#111">2</text>
<text x="530.40" y="645.43" font-size="21" font-family="Liberation Sans, sans-serif" fill="#111">2.5</text>
<text x="74.22" y="364.08" font-size="21" font-family="Liberation Sans, sans-serif" fill="#111">0</text>
<text x="44.44" y="493.33" font-size="21" font-family="Liberation Sans, sans-serif" fill="#111">−0.5</text>
<text x="61.96" y="622.42" font-size="21" font-family="Liberation Sans, sans-serif" fill="#111">−1</text>
<text x="308.41" y="678.00" font-size="21" font-family="Liberation Serif, serif" font-style="italic" fill="#111">λ</text><text x="316.40" y="678.10" font-size="21.5" font-family="Liberation Sans, sans-serif" fill="#111">/</text><text x="325.31" y="678.00" font-size="21" font-family="Liberation Serif, serif" font-style="italic" fill="#111">λ</text><text x="334.01" y="684.10" font-size="14" font-family="Liberation Sans, sans-serif" fill="#111">c</text>
<g transform="translate(20.3,535.5) rotate(-90)"><path d="M7.80 -15.20L0.80 -6.00L7.80 3.20" fill="none" stroke="#111" stroke-width="1.3"/><text x="10.66" y="0.00" font-size="22" font-family="Liberation Sans, sans-serif" fill="#111">J</text><text x="20.69" y="3.60" font-size="15" font-family="Liberation Sans, sans-serif" font-style="italic" fill="#111">z</text><path d="M27.40 -15.20L33.80 -6.00L27.40 3.20" fill="none" stroke="#111" stroke-width="1.3"/><text x="39.60" y="0.00" font-size="21.5" font-family="Liberation Sans, sans-serif" fill="#111">/</text><text x="52.26" y="0.00" font-size="20" font-family="Liberation Sans, sans-serif" fill="#111">(</text><text x="59.58" y="0.00" font-size="20" font-family="Liberation Sans, sans-serif" font-style="italic" fill="#111">N</text><text x="72.00" y="0.00" font-size="20.5" font-family="Liberation Sans, sans-serif" fill="#111">/</text><text x="76.92" y="0.00" font-size="21.5" font-family="Liberation Sans, sans-serif" fill="#111">2</text><text x="91.68" y="0.00" font-size="21" font-family="Liberation Sans, sans-serif" fill="#111">)</text></g>
<path d="M103.1 371.6H152.5" stroke="#e3262f" stroke-width="3.9"/>
<path d="M103.1 397.6H152.8" stroke="#2a4fa3" stroke-width="3.9" stroke-dasharray="10.5 11.5"/>
<text x="160.90" y="378.77" font-size="19" font-family="Liberation Serif, serif" font-style="italic" fill="#111">τ</text>
<text x="174.39" y="377.56" font-size="17.5" font-family="Liberation Sans, sans-serif" fill="#111">=</text>
<text x="190.00" y="377.82" font-size="17.5" font-family="Liberation Sans, sans-serif" fill="#111">600</text>
<text x="225.29" y="379.22" font-size="17.5" font-family="Liberation Sans, sans-serif" fill="#111">ns</text>
<text x="173.23" y="401.39" font-size="17.5" font-family="Liberation Sans, sans-serif" fill="#111">1,000</text>
<text x="224.89" y="402.92" font-size="17.5" font-family="Liberation Sans, sans-serif" fill="#111">ns</text>
<text x="-3.22" y="371.57" font-size="29" font-family="Liberation Sans, sans-serif" font-weight="bold" fill="#111">b</text>
<rect x="416.4" y="461.3" width="113.6" height="111.7" fill="none" stroke="#3a3a3a" stroke-width="1"/>
<path d="M416.4 573.0L530.0 461.3" stroke="#2a4fa3" stroke-width="1.7"/>
<path d="M473.2 461.3V465.3M473.2 573.0V569.0M416.4 517.15H420.4M530.0 517.15H526.0" stroke="#3a3a3a" stroke-width="1"/>
<text x="383.77" y="468.85" font-size="17" font-family="Liberation Sans, sans-serif" fill="#111" letter-spacing="0.8">2.5</text>
<text x="383.77" y="523.26" font-size="17" font-family="Liberation Sans, sans-serif" fill="#111" letter-spacing="0.8">1.5</text>
<text x="383.77" y="577.85" font-size="17" font-family="Liberation Sans, sans-serif" fill="#111" letter-spacing="0.8">0.5</text>
<text x="413.73" y="593.12" font-size="17.5" font-family="Liberation Sans, sans-serif" fill="#111">0</text>
<text x="525.15" y="592.07" font-size="19" font-family="Liberation Serif, serif" font-weight="bold" fill="#111">τ</text>
<text x="468.87" y="604.57" font-size="17.5" font-family="Liberation Sans, sans-serif" font-style="italic" fill="#111">t</text>
<g transform="translate(366,534.8) rotate(-90)"><text x="0.74" y="0.00" font-size="18" font-family="Liberation Serif, serif" font-style="italic" fill="#111">λ</text><text x="8.20" y="0.00" font-size="18" font-family="Liberation Sans, sans-serif" fill="#111">/</text><text x="15.54" y="0.00" font-size="18" font-family="Liberation Serif, serif" font-style="italic" fill="#111">λ</text><text x="22.67" y="6.30" font-size="12.5" font-family="Liberation Sans, sans-serif" fill="#111">c</text></g>
<rect x="724.5" y="17.8" width="24.8" height="297.6" fill="#dbeddd"/>
<rect x="749.3" y="17.8" width="181.2" height="297.6" fill="#c8e4c9"/>
<rect x="724.5" y="315.4" width="24.8" height="297.1" fill="#dbeddd"/>
<rect x="749.3" y="315.4" width="181.2" height="297.1" fill="#c8e4c9"/>
<g clip-path="url(#clipcu)" fill="none" stroke-width="3.7" stroke-linejoin="round"><path d="M672.2 178.0 673.2 178.1 674.1 178.1 675.1 178.2 676.1 178.2 677.0 178.2 678.0 178.3 679.0 178.3 680.0 178.3 680.9 178.3 681.9 178.4 682.9 178.4 683.9 178.4 684.8 178.4 685.8 178.4 686.8 178.5 687.8 178.5 688.8 178.5 689.8 178.5 690.7 178.6 691.7 178.6 692.7 178.6 693.7 178.7 694.7 178.7 695.6 178.8 696.6 178.9 697.6 178.9 698.6 179.0 699.6 179.1 700.5 179.2 701.5 179.3 702.5 179.4 703.4 179.6 704.4 179.7 705.4 179.9 706.3 180.0 707.3 180.2 708.2 180.4 709.2 180.6 710.1 180.8 711.0 181.0 712.0 181.3 712.9 181.5 713.8 181.8 714.8 182.1 715.7 182.4 716.6 182.7 717.5 183.0 718.4 183.4 719.3 183.7 720.2 184.1 721.1 184.5 722.0 184.9 722.9 185.3 723.8 185.7 724.7 186.1 725.5 186.5 726.4 187.0 727.3 187.4 728.1 187.9 729.0 188.4 729.8 188.8 730.7 189.3 731.5 189.8 732.3 190.3 733.2 190.8 734.0 191.4 734.8 191.9 735.6 192.4 736.4 193.0 737.3 193.5 738.1 194.1 738.9 194.6 739.6 195.2 740.4 195.8 741.2 196.4 742.0 196.9 742.8 197.5 743.6 198.1 744.3 198.7 745.1 199.3 745.9 199.9 746.6 200.5 747.4 201.2 748.2 201.8 748.9 202.4 749.7 203.0 750.4 203.7 751.2 204.3 751.9 204.9 752.7 205.6 753.4 206.2 754.1 206.8 754.9 207.5 755.6 208.1 756.4 208.8 757.1 209.4 757.8 210.0 758.6 210.7 759.3 211.3 760.0 212.0 760.8 212.6 761.5 213.3 762.2 213.9 762.9 214.6 763.7 215.2 764.4 215.9 765.1 216.5 765.9 217.2 766.6 217.8 767.3 218.5 768.0 219.1 768.8 219.8 769.5 220.4 770.2 221.1 770.9 221.7 771.7 222.4 772.4 223.0 773.1 223.7 773.9 224.3 774.6 224.9 775.3 225.6 776.1 226.2 776.8 226.9 777.5 227.5 778.3 228.1 779.0 228.8 779.7 229.4 780.5 230.0 781.2 230.7 782.0 231.3 782.7 231.9 783.5 232.6 784.2 233.2 785.0 233.8 785.7 234.4 786.5 235.0 787.2 235.6 788.0 236.2 788.8 236.8 789.5 237.5 790.3 238.1 791.1 238.7 791.8 239.2 792.6 239.8 793.4 240.4 794.2 241.0 794.9 241.6 795.7 242.2 796.5 242.8 797.3 243.3 798.1 243.9 798.9 244.5 799.7 245.1 800.5 245.6 801.3 246.2 802.1 246.7 802.9 247.3 803.7 247.9 804.5 248.4 805.3 249.0 806.1 249.5 806.9 250.1 807.7 250.6 808.5 251.1 809.3 251.7 810.1 252.2 811.0 252.7 811.8 253.3 812.6 253.8 813.4 254.3 814.3 254.8 815.1 255.3 815.9 255.8 816.8 256.3 817.6 256.9 818.4 257.4 819.3 257.9 820.1 258.4 820.9 258.8 821.8 259.3 822.6 259.8 823.5 260.3 824.3 260.8 825.2 261.3 826.0 261.7 826.9 262.2 827.7 262.7 828.6 263.1 829.5 263.6 830.3 264.1 831.2 264.5 832.0 265.0 832.9 265.4 833.8 265.9 834.6 266.3 835.5 266.7 836.4 267.2 837.3 267.6 838.1 268.0 839.0 268.5 839.9 268.9 840.8 269.3 841.7 269.7 842.5 270.1 843.4 270.5 844.3 270.9 845.2 271.3 846.1 271.7 847.0 272.1 847.9 272.5 848.8 272.9 849.7 273.3 850.6 273.7 851.5 274.1 852.4 274.5 853.3 274.8 854.2 275.2 855.1 275.6 856.0 275.9 856.9 276.3 857.8 276.7 858.7 277.0 859.6 277.4 860.5 277.7 861.4 278.1 862.3 278.4 863.2 278.8 864.2 279.1 865.1 279.5 866.0 279.8 866.9 280.1 867.8 280.5 868.7 280.8 869.7 281.1 870.6 281.4 871.5 281.7 872.4 282.1 873.4 282.4 874.3 282.7 875.2 283.0 876.1 283.3 877.1 283.6 878.0 283.9 878.9 284.2 879.9 284.5 880.8 284.8 881.7 285.1 882.7 285.4 883.6 285.7 884.5 285.9 885.5 286.2 886.4 286.5 887.3 286.8 888.3 287.1 889.2 287.3 890.2 287.6 891.1 287.9 892.0 288.1 893.0 288.4 893.9 288.6 894.9 288.9 895.8 289.2 896.7 289.4 897.7 289.7 898.6 289.9 899.6 290.1 900.5 290.4 901.5 290.6 902.4 290.9 903.4 291.1 904.3 291.3 905.3 291.6 906.2 291.8 907.2 292.0 908.1 292.3 909.1 292.5 910.0 292.7 911.0 292.9 911.9 293.1 912.9 293.4 913.8 293.6 914.8 293.8 915.7 294.0 916.7 294.2 917.6 294.4 918.6 294.6 919.5 294.8 920.5 295.0 921.4 295.2 922.4 295.4 923.3 295.6 924.3 295.8 925.2 296.0 926.2 296.2 927.1 296.4 928.1 296.6 929.0 296.7 930.0 296.9 931.0 297.1" stroke="#161616"/><path d="M672.4 105.6 673.1 106.4 673.8 107.2 674.5 107.9 675.2 108.7 675.8 109.5 676.5 110.3 677.2 111.1 677.9 111.9 678.6 112.7 679.2 113.5 679.9 114.3 680.6 115.2 681.2 116.0 681.9 116.8 682.6 117.6 683.2 118.4 683.9 119.3 684.5 120.1 685.2 120.9 685.8 121.8 686.5 122.6 687.2 123.4 687.8 124.3 688.5 125.1 689.1 125.9 689.8 126.8 690.4 127.6 691.0 128.5 691.7 129.3 692.3 130.1 693.0 131.0 693.6 131.8 694.3 132.7 694.9 133.5 695.6 134.3 696.2 135.2 696.9 136.0 697.6 136.8 698.2 137.7 698.9 138.5 699.5 139.3 700.2 140.2 700.8 141.0 701.5 141.8 702.2 142.6 702.8 143.5 703.5 144.3 704.2 145.1 704.9 145.9 705.5 146.7 706.2 147.5 706.9 148.3 707.6 149.1 708.3 149.9 709.0 150.7 709.7 151.5 710.4 152.3 711.1 153.1 711.8 153.9 712.5 154.6 713.2 155.4 713.9 156.2 714.6 156.9 715.4 157.7 716.1 158.4 716.9 159.2 717.6 159.9 718.3 160.7 719.1 161.4 719.9 162.1 720.6 162.8 721.4 163.5 722.2 164.2 723.0 164.9 723.7 165.6 724.5 166.3 725.3 167.0 726.1 167.7 727.0 168.3 727.8 169.0 728.6 169.6 729.4 170.3 730.3 170.9 731.1 171.5 732.0 172.2 732.8 172.8 733.7 173.4 734.6 174.0 735.4 174.6 736.3 175.2 737.2 175.8 738.1 176.4 738.9 177.0 739.8 177.6 740.7 178.1 741.6 178.7 742.5 179.3 743.4 179.9 744.2 180.5 745.1 181.1 746.0 181.7 746.9 182.3 747.7 182.9 748.6 183.5 749.5 184.1 750.3 184.7 751.2 185.4 752.0 186.0 752.9 186.6 753.7 187.3 754.6 187.9 755.4 188.6 756.2 189.2 757.0 189.9 757.9 190.5 758.7 191.2 759.5 191.9 760.3 192.5 761.1 193.2 761.9 193.9 762.7 194.6 763.5 195.2 764.3 195.9 765.1 196.6 765.9 197.3 766.7 198.0 767.6 198.6 768.4 199.3 769.2 200.0 770.0 200.7 770.8 201.3 771.6 202.0 772.4 202.7 773.2 203.3 774.1 204.0 774.9 204.7 775.7 205.3 776.5 206.0 777.4 206.6 778.2 207.3 779.0 207.9 779.9 208.6 780.7 209.2 781.5 209.8 782.4 210.5 783.2 211.1 784.1 211.7 784.9 212.4 785.8 213.0 786.6 213.6 787.5 214.3 788.3 214.9 789.2 215.5 790.0 216.1 790.9 216.7 791.7 217.4 792.6 218.0 793.4 218.6 794.3 219.2 795.1 219.8 796.0 220.4 796.9 221.1 797.7 221.7 798.6 222.3 799.4 222.9 800.3 223.5 801.2 224.1 802.1 224.7 802.9 225.3 803.8 225.9 804.7 226.5 805.6 227.0 806.4 227.6 807.3 228.2 808.2 228.8 809.1 229.3 810.0 229.9 810.9 230.5 811.8 231.0 812.7 231.6 813.6 232.1 814.5 232.7 815.4 233.2 816.3 233.7 817.2 234.3 818.1 234.8 819.1 235.3 820.0 235.8 820.9 236.4 821.8 236.9 822.7 237.4 823.7 237.9 824.6 238.4 825.5 238.9 826.5 239.4 827.4 239.9 828.3 240.3 829.3 240.8 830.2 241.3 831.2 241.8 832.1 242.2 833.1 242.7 834.0 243.2 835.0 243.6 835.9 244.1 836.9 244.5 837.8 244.9 838.8 245.4 839.8 245.8 840.7 246.2 841.7 246.7 842.7 247.1 843.6 247.5 844.6 247.9 845.6 248.3 846.6 248.7 847.5 249.1 848.5 249.5 849.5 249.9 850.5 250.3 851.5 250.7 852.4 251.0 853.4 251.4 854.4 251.8 855.4 252.1 856.4 252.5 857.4 252.9 858.4 253.2 859.4 253.5 860.4 253.9 861.4 254.2 862.4 254.6 863.4 254.9 864.4 255.2 865.4 255.5 866.4 255.9 867.4 256.2 868.4 256.5 869.4 256.8 870.5 257.1 871.5 257.4 872.5 257.7 873.5 258.0 874.5 258.3 875.5 258.6 876.6 258.9 877.6 259.1 878.6 259.4 879.6 259.7 880.6 260.0 881.7 260.3 882.7 260.5 883.7 260.8 884.7 261.1 885.8 261.3 886.8 261.6 887.8 261.9 888.8 262.1 889.9 262.4 890.9 262.6 891.9 262.9 892.9 263.2 894.0 263.4 895.0 263.7 896.0 263.9 897.1 264.2 898.1 264.4 899.1 264.7 900.1 264.9 901.2 265.1 902.2 265.4 903.2 265.6 904.3 265.9 905.3 266.1 906.3 266.4 907.4 266.6 908.4 266.8 909.4 267.1 910.5 267.3 911.5 267.6 912.5 267.8 913.5 268.0 914.6 268.3 915.6 268.5 916.6 268.8 917.7 269.0 918.7 269.2 919.7 269.5 920.7 269.7 921.8 270.0 922.8 270.2 923.8 270.4 924.8 270.7 925.9 270.9 926.9 271.2 927.9 271.4 928.9 271.7 929.9 271.9 931.0 272.2" stroke="#e3262f"/><path d="M672.3 30.9 672.8 31.9 673.4 33.0 674.0 34.1 674.5 35.2 675.1 36.3 675.6 37.4 676.2 38.5 676.7 39.6 677.2 40.6 677.8 41.7 678.3 42.8 678.8 43.9 679.3 45.0 679.8 46.2 680.3 47.3 680.9 48.4 681.4 49.5 681.9 50.6 682.3 51.7 682.8 52.8 683.3 53.9 683.8 55.0 684.3 56.2 684.8 57.3 685.3 58.4 685.7 59.5 686.2 60.6 686.7 61.8 687.2 62.9 687.6 64.0 688.1 65.1 688.6 66.3 689.0 67.4 689.5 68.5 690.0 69.6 690.4 70.8 690.9 71.9 691.3 73.0 691.8 74.1 692.3 75.3 692.7 76.4 693.2 77.5 693.6 78.7 694.1 79.8 694.6 80.9 695.0 82.0 695.5 83.2 695.9 84.3 696.4 85.4 696.9 86.6 697.3 87.7 697.8 88.8 698.3 89.9 698.7 91.1 699.2 92.2 699.7 93.3 700.2 94.4 700.6 95.5 701.1 96.7 701.6 97.8 702.1 98.9 702.6 100.0 703.1 101.1 703.6 102.2 704.0 103.4 704.5 104.5 705.0 105.6 705.5 106.7 706.1 107.8 706.6 108.9 707.1 110.0 707.6 111.1 708.1 112.2 708.6 113.3 709.2 114.4 709.7 115.5 710.2 116.6 710.8 117.7 711.3 118.8 711.8 119.9 712.4 121.0 712.9 122.1 713.5 123.1 714.0 124.2 714.6 125.3 715.2 126.4 715.7 127.5 716.3 128.5 716.9 129.6 717.5 130.7 718.0 131.8 718.6 132.8 719.2 133.9 719.8 135.0 720.4 136.0 721.0 137.1 721.6 138.2 722.3 139.2 722.9 140.3 723.5 141.3 724.1 142.4 724.8 143.4 725.4 144.5 726.0 145.5 726.7 146.6 727.3 147.6 728.0 148.6 728.7 149.7 729.3 150.7 730.0 151.7 730.7 152.7 731.4 153.7 732.1 154.7 732.9 155.6 733.6 156.6 734.4 157.5 735.1 158.5 735.9 159.4 736.7 160.3 737.6 161.1 738.4 162.0 739.3 162.8 740.1 163.6 741.0 164.4 742.0 165.2 742.9 165.9 743.9 166.7 744.9 167.4 745.9 168.0 746.9 168.7 747.9 169.4 748.9 170.0 750.0 170.7 751.0 171.3 752.0 172.0 753.1 172.6 754.1 173.3 755.1 173.9 756.1 174.6 757.2 175.3 758.2 175.9 759.2 176.6 760.2 177.3 761.1 178.0 762.1 178.7 763.1 179.5 764.0 180.2 765.0 181.0 765.9 181.8 766.9 182.6 767.8 183.3 768.7 184.1 769.6 184.9 770.5 185.7 771.5 186.5 772.4 187.3 773.4 188.1 774.3 188.8 775.2 189.6 776.2 190.4 777.2 191.1 778.1 191.8 779.1 192.6 780.1 193.3 781.1 194.0 782.1 194.7 783.1 195.3 784.1 196.0 785.1 196.6 786.2 197.3 787.2 197.9 788.3 198.5 789.3 199.1 790.4 199.7 791.5 200.3 792.5 200.9 793.6 201.4 794.7 202.0 795.7 202.6 796.8 203.2 797.8 203.8 798.9 204.4 800.0 205.0 801.0 205.6 802.1 206.2 803.2 206.8 804.2 207.4 805.3 208.0 806.3 208.6 807.4 209.2 808.4 209.8 809.5 210.4 810.6 211.0 811.6 211.6 812.7 212.2 813.7 212.8 814.8 213.4 815.9 214.0 816.9 214.7 818.0 215.3 819.0 215.9 820.1 216.4 821.2 217.0 822.2 217.6 823.3 218.2 824.4 218.8 825.4 219.4 826.5 220.0 827.6 220.6 828.7 221.1 829.7 221.7 830.8 222.3 831.9 222.8 833.0 223.4 834.0 224.0 835.1 224.5 836.2 225.1 837.3 225.6 838.4 226.1 839.5 226.7 840.6 227.2 841.7 227.7 842.8 228.2 843.9 228.8 845.0 229.3 846.1 229.8 847.2 230.3 848.3 230.8 849.4 231.3 850.6 231.7 851.7 232.2 852.8 232.7 853.9 233.2 855.0 233.7 856.2 234.1 857.3 234.6 858.4 235.0 859.6 235.5 860.7 235.9 861.8 236.4 863.0 236.8 864.1 237.3 865.2 237.7 866.4 238.1 867.5 238.6 868.7 239.0 869.8 239.4 870.9 239.8 872.1 240.2 873.2 240.6 874.4 241.0 875.5 241.4 876.7 241.8 877.9 242.2 879.0 242.6 880.2 242.9 881.3 243.3 882.5 243.7 883.7 244.0 884.8 244.4 886.0 244.8 887.1 245.1 888.3 245.5 889.5 245.8 890.7 246.2 891.8 246.5 893.0 246.8 894.2 247.2 895.3 247.5 896.5 247.8 897.7 248.1 898.9 248.4 900.1 248.7 901.2 249.1 902.4 249.4 903.6 249.7 904.8 250.0 906.0 250.2 907.2 250.5 908.3 250.8 909.5 251.1 910.7 251.4 911.9 251.6 913.1 251.9 914.3 252.2 915.5 252.4 916.7 252.7 917.8 252.9 919.0 253.2 920.2 253.4 921.4 253.7 922.6 253.9 923.8 254.2 925.0 254.4 926.2 254.6 927.4 254.8 928.6 255.1 929.8 255.3 931.0 255.5" stroke="#2a4fa3"/></g>
<g clip-path="url(#clipcl)" fill="none" stroke-width="3.7" stroke-linejoin="round"><path d="M672.0 316.7 672.9 316.6 673.8 316.6 674.7 316.6 675.6 316.6 676.5 316.5 677.4 316.5 678.3 316.5 679.2 316.5 680.1 316.5 681.1 316.5 682.0 316.5 682.9 316.5 683.8 316.6 684.7 316.6 685.6 316.6 686.5 316.6 687.4 316.6 688.3 316.6 689.2 316.6 690.1 316.7 691.0 316.7 691.9 316.7 692.8 316.7 693.8 316.7 694.7 316.7 695.6 316.7 696.5 316.8 697.4 316.8 698.3 316.8 699.2 316.8 700.2 316.8 701.1 316.8 702.0 316.8 702.9 316.8 703.8 316.7 704.7 316.7 705.7 316.7 706.6 316.7 707.5 316.6 708.4 316.6 709.4 316.6 710.3 316.5 711.2 316.5 712.1 316.4 713.1 316.4 714.0 316.3 714.9 316.3 715.8 316.3 716.8 316.3 717.7 316.3 718.6 316.3 719.5 316.3 720.4 316.4 721.3 316.5 722.2 316.6 723.0 316.7 723.9 316.9 724.8 317.1 725.6 317.4 726.5 317.6 727.3 317.9 728.1 318.3 729.0 318.7 729.8 319.0 730.6 319.5 731.4 319.9 732.2 320.3 733.0 320.8 733.8 321.3 734.6 321.8 735.4 322.3 736.2 322.8 737.0 323.2 737.7 323.7 738.5 324.2 739.3 324.7 740.1 325.2 740.9 325.7 741.7 326.1 742.5 326.6 743.3 327.0 744.2 327.4 745.0 327.8 745.8 328.1 746.6 328.5 747.5 328.8 748.3 329.1 749.2 329.4 750.0 329.7 750.9 329.9 751.7 330.2 752.6 330.4 753.5 330.6 754.3 330.8 755.2 331.0 756.1 331.2 757.0 331.4 757.9 331.5 758.7 331.7 759.6 331.8 760.5 332.0 761.4 332.1 762.3 332.2 763.2 332.3 764.1 332.4 765.0 332.5 765.9 332.6 766.8 332.6 767.7 332.7 768.6 332.8 769.5 332.9 770.4 332.9 771.3 333.0 772.3 333.1 773.2 333.1 774.1 333.2 775.0 333.3 775.9 333.4 776.8 333.4 777.7 333.5 778.6 333.6 779.5 333.7 780.4 333.7 781.3 333.8 782.2 333.9 783.1 334.0 784.0 334.1 784.9 334.3 785.8 334.4 786.7 334.5 787.6 334.7 788.5 334.8 789.4 335.0 790.2 335.1 791.1 335.3 792.0 335.5 792.9 335.7 793.7 336.0 794.6 336.2 795.5 336.4 796.3 336.7 797.2 337.0 798.0 337.2 798.9 337.5 799.7 337.8 800.6 338.1 801.4 338.4 802.3 338.7 803.1 339.0 804.0 339.4 804.8 339.7 805.6 340.0 806.5 340.4 807.3 340.7 808.1 341.1 809.0 341.5 809.8 341.8 810.6 342.2 811.5 342.5 812.3 342.9 813.1 343.3 814.0 343.7 814.8 344.0 815.6 344.4 816.4 344.8 817.3 345.2 818.1 345.6 818.9 345.9 819.8 346.3 820.6 346.7 821.4 347.1 822.3 347.4 823.1 347.8 823.9 348.2 824.8 348.5 825.6 348.9 826.5 349.2 827.3 349.6 828.1 349.9 829.0 350.3 829.8 350.6 830.7 350.9 831.5 351.2 832.4 351.5 833.2 351.9 834.1 352.2 834.9 352.5 835.8 352.8 836.7 353.1 837.5 353.3 838.4 353.6 839.2 353.9 840.1 354.2 841.0 354.5 841.8 354.8 842.7 355.0 843.6 355.3 844.4 355.6 845.3 355.9 846.2 356.1 847.0 356.4 847.9 356.7 848.8 356.9 849.6 357.2 850.5 357.5 851.4 357.7 852.2 358.0 853.1 358.3 854.0 358.6 854.8 358.8 855.7 359.1 856.5 359.4 857.4 359.7 858.3 360.0 859.1 360.2 860.0 360.5 860.8 360.8 861.7 361.1 862.6 361.4 863.4 361.7 864.3 362.0 865.1 362.3 866.0 362.6 866.8 362.9 867.7 363.2 868.5 363.5 869.4 363.9 870.2 364.2 871.1 364.5 871.9 364.8 872.8 365.1 873.6 365.4 874.5 365.8 875.3 366.1 876.2 366.4 877.0 366.7 877.9 367.0 878.7 367.4 879.6 367.7 880.4 368.0 881.3 368.3 882.1 368.7 883.0 369.0 883.8 369.3 884.7 369.6 885.5 370.0 886.4 370.3 887.2 370.6 888.1 371.0 888.9 371.3 889.8 371.6 890.6 371.9 891.5 372.3 892.3 372.6 893.2 372.9 894.0 373.2 894.9 373.6 895.7 373.9 896.6 374.2 897.4 374.5 898.3 374.8 899.1 375.2 900.0 375.5 900.8 375.8 901.7 376.1 902.5 376.4 903.4 376.7 904.2 377.1 905.1 377.4 905.9 377.7 906.8 378.0 907.6 378.3 908.5 378.6 909.3 378.9 910.2 379.2 911.1 379.5 911.9 379.8 912.8 380.1 913.6 380.4 914.5 380.7 915.4 380.9 916.2 381.2 917.1 381.5 918.0 381.8 918.8 382.1 919.7 382.3 920.6 382.6 921.4 382.9 922.3 383.1 923.2 383.4 924.0 383.7 924.9 383.9 925.8 384.2 926.7 384.4 927.5 384.7 928.4 384.9 929.3 385.1 930.2 385.4 931.1 385.6" stroke="#161616"/><path d="M672.0 425.7 672.9 424.9 673.7 424.3 674.6 423.8 675.4 423.5 676.1 423.4 676.9 423.4 677.6 423.5 678.3 423.7 678.9 424.1 679.6 424.5 680.2 425.0 680.8 425.6 681.4 426.2 682.1 426.9 682.7 427.6 683.2 428.3 683.8 429.0 684.4 429.7 685.0 430.5 685.6 431.2 686.1 431.8 686.7 432.4 687.3 433.0 687.8 433.5 688.4 433.9 689.0 434.3 689.5 434.5 690.1 434.7 690.7 434.7 691.2 434.6 691.8 434.4 692.3 434.1 692.8 433.7 693.4 433.2 693.8 432.7 694.3 432.0 694.8 431.3 695.2 430.6 695.6 429.8 696.0 428.9 696.4 428.1 696.7 427.2 697.1 426.3 697.4 425.4 697.7 424.5 698.0 423.6 698.3 422.8 698.5 421.9 698.8 421.1 699.1 420.2 699.4 419.4 699.6 418.6 699.9 417.8 700.2 417.0 700.5 416.2 700.9 415.5 701.2 414.7 701.6 413.9 702.0 413.1 702.4 412.4 702.9 411.6 703.4 410.9 703.9 410.2 704.4 409.5 705.0 408.9 705.6 408.3 706.2 407.7 706.8 407.2 707.4 406.8 708.1 406.4 708.8 406.1 709.5 405.9 710.2 405.7 710.9 405.6 711.7 405.7 712.4 405.8 713.2 405.9 714.0 406.2 714.7 406.5 715.5 406.8 716.3 407.2 717.1 407.5 717.9 407.9 718.6 408.3 719.4 408.6 720.2 408.8 720.9 409.0 721.6 409.2 722.3 409.2 723.0 409.2 723.6 409.1 724.2 408.8 724.8 408.6 725.4 408.2 725.9 407.8 726.4 407.3 726.8 406.7 727.3 406.2 727.7 405.5 728.1 404.8 728.5 404.1 728.8 403.3 729.1 402.5 729.4 401.7 729.7 400.9 730.0 400.0 730.2 399.1 730.5 398.2 730.7 397.3 730.9 396.3 731.1 395.4 731.3 394.5 731.5 393.5 731.7 392.6 731.9 391.7 732.0 390.8 732.2 389.9 732.4 389.0 732.6 388.2 732.8 387.3 732.9 386.5 733.1 385.7 733.3 384.8 733.5 384.0 733.7 383.2 733.9 382.4 734.2 381.7 734.4 380.9 734.6 380.1 734.9 379.4 735.2 378.6 735.4 377.9 735.7 377.2 736.0 376.5 736.4 375.8 736.7 375.1 737.1 374.4 737.5 373.7 737.9 373.0 738.3 372.4 738.8 371.7 739.2 371.0 739.7 370.4 740.3 369.8 740.8 369.1 741.4 368.5 742.0 367.9 742.6 367.3 743.3 366.7 744.0 366.1 744.7 365.6 745.4 365.1 746.2 364.7 746.9 364.3 747.7 364.0 748.5 363.8 749.3 363.6 750.1 363.5 750.9 363.5 751.7 363.5 752.5 363.5 753.3 363.6 754.2 363.8 755.0 363.9 755.8 364.2 756.6 364.4 757.4 364.7 758.2 365.1 759.0 365.4 759.8 365.8 760.6 366.2 761.3 366.6 762.1 367.0 762.8 367.5 763.5 367.9 764.2 368.4 764.9 368.9 765.5 369.4 766.2 369.9 766.8 370.4 767.4 371.0 768.0 371.5 768.6 372.1 769.2 372.6 769.8 373.2 770.4 373.8 770.9 374.4 771.5 375.0 772.0 375.6 772.6 376.2 773.1 376.8 773.6 377.4 774.2 378.0 774.7 378.7 775.2 379.3 775.7 379.9 776.3 380.6 776.8 381.2 777.3 381.9 777.8 382.6 778.4 383.2 778.9 383.9 779.4 384.5 779.9 385.2 780.5 385.9 781.0 386.5 781.6 387.2 782.2 387.9 782.7 388.5 783.3 389.2 783.9 389.9 784.5 390.5 785.1 391.2 785.7 391.8 786.3 392.5 787.0 393.1 787.6 393.7 788.3 394.3 788.9 394.9 789.6 395.4 790.3 395.9 791.0 396.4 791.6 396.9 792.3 397.3 793.0 397.7 793.7 398.0 794.4 398.3 795.1 398.6 795.8 398.8 796.5 398.9 797.3 399.0 798.0 399.0 798.7 399.0 799.4 398.9 800.1 398.8 800.8 398.6 801.5 398.4 802.3 398.1 803.0 397.8 803.7 397.4 804.4 397.0 805.2 396.6 805.9 396.2 806.6 395.7 807.4 395.3 808.1 394.8 808.8 394.3 809.6 393.7 810.3 393.2 811.1 392.7 811.8 392.2 812.6 391.7 813.3 391.2 814.1 390.7 814.8 390.2 815.6 389.8 816.4 389.4 817.1 389.0 817.9 388.6 818.7 388.3 819.4 388.0 820.2 387.7 821.0 387.5 821.8 387.3 822.6 387.2 823.4 387.1 824.2 387.1 825.0 387.1 825.8 387.1 826.6 387.1 827.4 387.2 828.2 387.4 829.0 387.5 829.8 387.7 830.6 387.9 831.4 388.1 832.3 388.3 833.1 388.6 833.9 388.8 834.7 389.1 835.5 389.4 836.3 389.7 837.1 389.9 837.9 390.2 838.7 390.5 839.5 390.8 840.3 391.1 841.1 391.4 841.8 391.7 842.6 392.0 843.4 392.3 844.2 392.6 845.0 392.9 845.8 393.2 846.6 393.5 847.4 393.8 848.1 394.1 848.9 394.4 849.7 394.7 850.5 395.0 851.3 395.3 852.1 395.5 852.9 395.8 853.7 396.1 854.4 396.3 855.2 396.6 856.0 396.9 856.8 397.1 857.6 397.3 858.4 397.6 859.2 397.8 860.0 398.0 860.8 398.2 861.6 398.4 862.4 398.5 863.2 398.7 864.0 398.9 864.8 399.0 865.6 399.1 866.4 399.3 867.3 399.4 868.1 399.5 868.9 399.5 869.7 399.6 870.6 399.7 871.4 399.7 872.2 399.7 873.1 399.7 873.9 399.7 874.8 399.7 875.6 399.6 876.5 399.6 877.3 399.6 878.2 399.5 879.0 399.5 879.9 399.4 880.7 399.4 881.5 399.4 882.4 399.4 883.2 399.4 884.1 399.4 884.9 399.4 885.8 399.4 886.6 399.5 887.4 399.6 888.2 399.7 889.1 399.8 889.9 399.9 890.7 400.1 891.5 400.2 892.3 400.4 893.1 400.6 893.9 400.8 894.7 401.0 895.5 401.3 896.3 401.5 897.1 401.7 897.9 402.0 898.7 402.2 899.5 402.5 900.3 402.8 901.1 403.0 901.9 403.3 902.7 403.6 903.5 403.9 904.3 404.1 905.0 404.4 905.8 404.7 906.6 405.0 907.4 405.2 908.2 405.5 909.0 405.8 909.8 406.0 910.6 406.3 911.4 406.6 912.2 406.8 913.0 407.1 913.8 407.3 914.6 407.6 915.4 407.8 916.2 408.0 917.0 408.3 917.8 408.5 918.6 408.7 919.4 408.9 920.2 409.1 921.0 409.3 921.8 409.5 922.7 409.6 923.5 409.8 924.3 409.9 925.1 410.0 926.0 410.2 926.8 410.3 927.6 410.4 928.5 410.4 929.3 410.5 930.2 410.6 931.0 410.6" stroke="#e3262f"/><path d="M672.0 558.5 C672.2 558.5 672.2 558.8 673.1 558.3 C674.0 557.8 675.9 554.8 677.4 555.2 C678.9 555.6 680.2 557.8 682.3 560.8 C684.3 563.8 687.5 572.2 689.7 573.0 C692.0 573.8 693.9 569.6 695.8 565.7 C697.6 561.8 699.1 553.5 700.8 549.7 C702.4 545.9 704.1 543.0 705.7 542.9 C707.3 542.8 709.1 546.1 710.2 549.0 C711.3 551.9 711.5 553.8 712.4 560.0 C713.3 566.2 714.5 577.6 715.4 586.0 C716.3 594.4 716.9 602.0 717.6 610.3 C718.3 618.6 719.0 636.0 719.6 636.0 C720.2 636.0 720.9 618.6 721.5 610.3 C722.1 602.0 722.6 594.4 723.2 586.0 C723.9 577.6 724.7 567.7 725.4 560.0 C726.1 552.3 726.8 546.7 727.6 540.0 C728.4 533.3 729.3 527.5 730.3 520.0 C731.3 512.5 732.0 505.0 733.4 494.9 C734.8 484.8 736.9 469.8 738.6 459.3 C740.4 448.8 742.1 440.4 743.9 432.0 C745.6 423.6 747.2 414.0 749.1 408.9 C751.0 403.8 753.5 401.9 755.4 401.5 C757.3 401.1 758.8 404.2 760.7 406.8 C762.6 409.4 764.2 414.5 767.0 417.3 C769.8 420.1 774.0 421.7 777.5 423.6 C781.0 425.5 784.9 427.4 788.0 428.8 C791.1 430.2 792.8 431.2 796.4 432.0 C800.0 432.8 805.1 432.8 809.8 433.6 C814.5 434.4 819.7 435.9 824.6 437.0 C829.5 438.1 834.5 439.3 839.4 440.0 C844.3 440.7 849.3 441.1 854.2 441.2 C859.1 441.3 864.1 441.0 869.0 440.4 C873.9 439.8 878.9 438.6 883.8 437.8 C888.7 437.0 893.7 435.9 898.6 435.5 C903.5 435.1 908.0 435.2 913.4 435.2 C918.8 435.1 928.1 435.2 931.0 435.2" stroke="#2a4fa3"/></g>
<rect x="672.0" y="17.8" width="258.5" height="594.7" fill="none" stroke="#3a3a3a" stroke-width="1.1"/>
<path d="M672.0 315.4H930.5" stroke="#3a3a3a" stroke-width="1.1"/>
<path d="M672.0 17.8V12.200000000000001M672.0 612.5V618.5M736.6 17.8V12.200000000000001M736.6 612.5V618.5M801.2 17.8V12.200000000000001M801.2 612.5V618.5M865.9 17.8V12.200000000000001M865.9 612.5V618.5M930.5 17.8V12.200000000000001M930.5 612.5V618.5M736.6 309.4V321.4M801.2 309.4V321.4M865.9 309.4V321.4M672.0 35.3H666.5M930.5 35.3H936.0M672.0 105.4H666.5M930.5 105.4H936.0M672.0 175.5H666.5M930.5 175.5H936.0M672.0 245.6H666.5M930.5 245.6H936.0M672.0 315.7H666.5M930.5 315.7H936.0M672.0 463.9H666.5M930.5 463.9H936.0M672.0 612.5H666.5M930.5 612.5H936.0" stroke="#3a3a3a" stroke-width="1" fill="none"/>
<text x="636.44" y="43.88" font-size="21" font-family="Liberation Sans, sans-serif" fill="#111">40</text>
<text x="636.44" y="113.33" font-size="21" font-family="Liberation Sans, sans-serif" fill="#111">20</text>
<text x="648.12" y="183.23" font-size="21" font-family="Liberation Sans, sans-serif" fill="#111">0</text>
<text x="624.18" y="253.33" font-size="21" font-family="Liberation Sans, sans-serif" fill="#111">−20</text>
<text x="624.18" y="312.23" font-size="21" font-family="Liberation Sans, sans-serif" fill="#111">−40</text>
<text x="627.58" y="341.23" font-size="21" font-family="Liberation Sans, sans-serif" fill="#111">10</text>
<text x="650.80" y="334.35" font-size="13.5" font-family="Liberation Sans, sans-serif" fill="#111">0</text>
<text x="618.63" y="473.73" font-size="21" font-family="Liberation Sans, sans-serif" fill="#111">10</text>
<text x="643.46" y="467.81" font-size="13.5" font-family="Liberation Sans, sans-serif" fill="#111">−2</text>
<text x="618.78" y="621.53" font-size="21" font-family="Liberation Sans, sans-serif" fill="#111">10</text>
<text x="642.77" y="615.04" font-size="13.5" font-family="Liberation Sans, sans-serif" fill="#111">−4</text>
<text x="657.40" y="645.03" font-size="21" font-family="Liberation Sans, sans-serif" fill="#111">0.5</text>
<text x="730.79" y="645.02" font-size="21" font-family="Liberation Sans, sans-serif" fill="#111">1</text>
<text x="786.65" y="644.92" font-size="21" font-family="Liberation Sans, sans-serif" fill="#111">1.5</text>
<text x="860.04" y="645.13" font-size="21" font-family="Liberation Sans, sans-serif" fill="#111">2</text>
<text x="915.90" y="645.03" font-size="21" font-family="Liberation Sans, sans-serif" fill="#111">2.5</text>
<text x="785.71" y="678.20" font-size="21" font-family="Liberation Serif, serif" font-style="italic" fill="#111">λ</text><text x="793.70" y="678.30" font-size="21.5" font-family="Liberation Sans, sans-serif" fill="#111">/</text><text x="802.61" y="678.20" font-size="21" font-family="Liberation Serif, serif" font-style="italic" fill="#111">λ</text><text x="811.31" y="684.30" font-size="14" font-family="Liberation Sans, sans-serif" fill="#111">c</text>
<g transform="translate(598.4,211.6) rotate(-90)"><text x="-0.02" y="0.00" font-size="20" font-family="Liberation Sans, sans-serif" font-style="italic" fill="#111">E</text><text x="11.47" y="4.60" font-size="14" font-family="Liberation Sans, sans-serif" fill="#111">n</text><text x="28.16" y="0.00" font-size="20" font-family="Liberation Sans, sans-serif" fill="#111">(</text><text x="35.26" y="0.00" font-size="20" font-family="Liberation Sans, sans-serif" fill="#111">M</text><text x="51.06" y="0.00" font-size="20" font-family="Liberation Sans, sans-serif" fill="#111">H</text><text x="65.99" y="0.00" font-size="20" font-family="Liberation Sans, sans-serif" fill="#111">z</text><text x="78.78" y="0.00" font-size="20" font-family="Liberation Sans, sans-serif" fill="#111">)</text></g>
<text transform="translate(591.70,472.30) rotate(-90)" x="-50.46" y="4.91" font-size="19" font-family="Liberation Sans, sans-serif" fill="#111" letter-spacing="1.2">Population</text>
<path d="M831.5 44.7H883.6" stroke="#161616" stroke-width="3.6"/>
<path d="M831.5 74.1H883.6" stroke="#e3262f" stroke-width="3.6"/>
<path d="M831.5 103.3H883.6" stroke="#2a4fa3" stroke-width="3.6"/>
<path d="M830 525H884" stroke="#161616" stroke-width="3.6"/>
<path d="M830 555.7H884" stroke="#e3262f" stroke-width="3.6"/>
<path d="M830 586H884" stroke="#2a4fa3" stroke-width="3.6"/>
<text x="897.62" y="52.14" font-size="19" font-family="Liberation Sans, sans-serif" fill="#111">0</text>
<path d="M894.4 37.7V52.3" stroke="#111" stroke-width="1.6"/><path d="M910.40 37.70L915.60 46.80L910.40 55.90" fill="none" stroke="#111" stroke-width="1.5"/>
<text x="897.36" y="80.79" font-size="19" font-family="Liberation Sans, sans-serif" fill="#111">1</text>
<path d="M894.4 66.3V81.0" stroke="#111" stroke-width="1.6"/><path d="M910.40 66.30L915.60 75.45L910.40 84.60" fill="none" stroke="#111" stroke-width="1.5"/>
<text x="897.62" y="110.83" font-size="19" font-family="Liberation Sans, sans-serif" fill="#111">2</text>
<path d="M894.4 96.3V110.9" stroke="#111" stroke-width="1.6"/><path d="M910.40 96.30L915.60 105.40L910.40 114.50" fill="none" stroke="#111" stroke-width="1.5"/>
<text x="898.62" y="535.64" font-size="19" font-family="Liberation Sans, sans-serif" fill="#111">0</text>
<path d="M895.4 521.2V535.8" stroke="#111" stroke-width="1.6"/><path d="M911.40 521.20L916.60 530.30L911.40 539.40" fill="none" stroke="#111" stroke-width="1.5"/>
<text x="898.36" y="566.04" font-size="19" font-family="Liberation Sans, sans-serif" fill="#111">1</text>
<path d="M895.4 551.6V566.2" stroke="#111" stroke-width="1.6"/><path d="M911.40 551.60L916.60 560.70L911.40 569.80" fill="none" stroke="#111" stroke-width="1.5"/>
<text x="898.62" y="596.53" font-size="19" font-family="Liberation Sans, sans-serif" fill="#111">2</text>
<path d="M895.4 582.0V596.6" stroke="#111" stroke-width="1.6"/><path d="M911.40 582.00L916.60 591.10L911.40 600.20" fill="none" stroke="#111" stroke-width="1.5"/>
<text x="577.83" y="16.90" font-size="28" font-family="Liberation Sans, sans-serif" font-weight="bold" fill="#111">c</text>
</svg>
</body></html>
